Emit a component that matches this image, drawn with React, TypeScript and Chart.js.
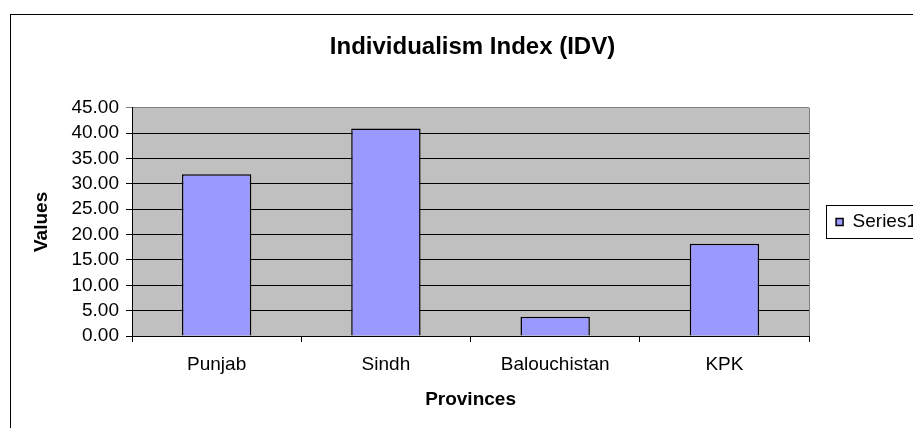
import React, { useEffect, useRef } from "react";
import { Chart, registerables } from "chart.js";

Chart.register(...registerables);

const chartTitle = "Individualism Index (IDV)";
const xAxisTitle = "Provinces";
const yAxisTitle = "Values";
const seriesName = "Series1";
const categories = ["Punjab", "Sindh", "Balouchistan", "KPK"];
const seriesValues = [31.9, 40.9, 3.8, 18.2];
const yMin = 0;
const yMax = 45;
const yStep = 5;

const FONT = "'Liberation Sans', Arial, sans-serif";

const framePlugin = {
  id: "frame",
  beforeDraw(chart: any) {
    const { ctx, chartArea: a } = chart;
    ctx.save();
    ctx.strokeStyle = "#000";
    ctx.lineWidth = 1;
    ctx.strokeRect(10.5, 14.5, 3000, 3000);
    ctx.fillStyle = "#C0C0C0";
    ctx.fillRect(a.left, a.top, a.right - a.left, a.bottom - a.top);
    ctx.restore();
  },
  afterDraw(chart: any) {
    const { ctx, chartArea: a, legend } = chart;
    ctx.save();
    ctx.strokeStyle = "#808080";
    ctx.lineWidth = 1;
    ctx.beginPath();
    ctx.moveTo(Math.round(a.right) + 0.5, a.top);
    ctx.lineTo(Math.round(a.right) + 0.5, a.bottom);
    ctx.stroke();
    const cy = (a.top + a.bottom) / 2;
    ctx.strokeStyle = "#000";
    ctx.strokeRect(Math.round(legend.left + 17) + 0.5, Math.round(cy - 16.5) + 0.5, 300, 33);
    ctx.restore();
  },
};

export default function App() {
  const ref = useRef<HTMLCanvasElement>(null);

  useEffect(() => {
    if (!ref.current) return;
    const chart = new Chart(ref.current, {
      type: "bar",
      data: {
        labels: categories,
        datasets: [
          {
            label: seriesName,
            data: seriesValues,
            backgroundColor: "#9999FF",
            borderColor: "#000",
            borderWidth: 1.5,
            categoryPercentage: 1,
            barPercentage: 0.41,
          },
        ],
      },
      options: {
        animation: false,
        responsive: false,
        maintainAspectRatio: false,
        layout: { padding: { left: 18, right: 0, top: 0, bottom: 0 } },
        plugins: {
          title: {
            display: true,
            text: chartTitle,
            color: "#000",
            font: { family: FONT, size: 24, weight: "bold" },
            padding: { top: 33, bottom: 46 },
          },
          legend: {
            display: true,
            position: "right",
            fullSize: false,
            labels: {
              color: "#000",
              font: { family: FONT, size: 19 },
              boxWidth: 7,
              boxHeight: 7,
              padding: 27,
            },
          },
          tooltip: { enabled: false },
        },
        scales: {
          x: {
            offset: true,
            grid: {
              display: true,
              drawOnChartArea: false,
              drawTicks: true,
              tickLength: 6,
              color: "#000",
              offset: true,
            },
            border: { display: true, color: "#000" },
            ticks: {
              color: "#000",
              font: { family: FONT, size: 19 },
              padding: 11,
              maxRotation: 0,
              autoSkip: false,
            },
            title: {
              display: true,
              text: xAxisTitle,
              color: "#000",
              font: { family: FONT, size: 19, weight: "bold" },
              padding: { top: 0, bottom: 17 },
            },
            afterFit(scale: any) {
              scale.height = 92;
            },
          },
          y: {
            min: yMin,
            max: yMax,
            grid: {
              color: (c: any) => (c.tick && c.tick.value === yMax ? "#808080" : "#000"),
              tickLength: 6,
              drawTicks: true,
            },
            border: { display: true, color: "#000" },
            ticks: {
              stepSize: yStep,
              autoSkip: false,
              color: "#000",
              font: { family: FONT, size: 19 },
              padding: 7,
              callback: (v: any) => Number(v).toFixed(2),
            },
            title: {
              display: true,
              text: yAxisTitle,
              color: "#000",
              font: { family: FONT, size: 19, weight: "bold" },
              padding: { top: 12, bottom: 0 },
            },
            afterFit(scale: any) {
              scale.width = 114;
            },
          },
        },
      },
      plugins: [framePlugin],
    });
    return () => chart.destroy();
  }, []);

  return (
    <div
      style={{
        position: "absolute",
        left: 0,
        top: 0,
        width: 913,
        height: 428,
        overflow: "hidden",
        background: "#fff",
      }}
    >
      <canvas ref={ref} width={927} height={428} style={{ width: 927, height: 428, display: "block" }} />
    </div>
  );
}
